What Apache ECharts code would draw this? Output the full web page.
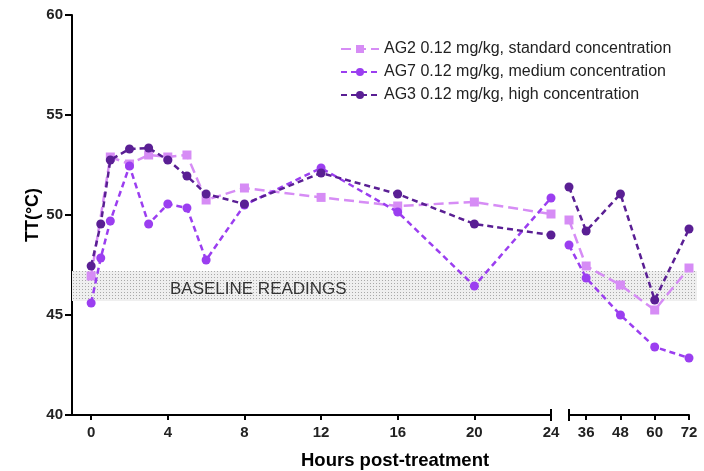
<!DOCTYPE html>
<html><head><meta charset="utf-8">
<script src="https://cdn.jsdelivr.net/npm/echarts@6/dist/echarts.min.js"></script>
<style>html,body{margin:0;padding:0;background:#fff}#c{width:704px;height:471px}</style>
</head><body><div id="c"></div>
<script>
// ---- data ----
const seriesNames = [
  'AG2 0.12 mg/kg, standard concentration',
  'AG7 0.12 mg/kg, medium concentration',
  'AG3 0.12 mg/kg, high concentration'
];
const hoursEarly = [0, 0.5, 1, 2, 3, 4, 5, 6, 8, 12, 16, 20, 24];
const hoursLate = [30, 36, 48, 60, 72];
const ag2Early = [46.95, null, 52.9, 52.55, 53.0, 52.9, 53.0, 50.75, 51.35, 50.88, 50.45, 50.65, 50.05];
const ag2Late = [49.75, 47.45, 46.5, 45.25, 47.35];
const ag7Early = [45.6, 47.85, 49.7, 52.45, 49.55, 50.55, 50.35, 47.75, 50.5, 52.35, 50.15, 46.45, 50.85];
const ag7Late = [48.5, 46.85, 45.0, 43.4, 42.85];
const ag3Early = [47.45, 49.55, 52.75, 53.3, 53.35, 52.75, 51.95, 51.05, 50.55, 52.1, 51.05, 49.55, 49.0];
const ag3Late = [51.4, 49.2, 51.05, 45.75, 49.3];
const tickEarly = [0, 4, 8, 12, 16, 20, 24];
const tickLate = [36, 48, 60, 72];
const baselineRange = [45.7, 47.2];
const baselineLabel = 'BASELINE READINGS';

// ---- styles ----
const colors = ['#d68cf5', '#9b3ef0', '#5a1f94'];
const symbols = ['rect', 'circle', 'circle'];
const dashes = [[10, 5], [6, 4], [6, 4]];
const FONT = '"Liberation Sans", Arial, sans-serif';

const pat = document.createElement('canvas');
pat.width = 3; pat.height = 3;
const pc = pat.getContext('2d');
pc.fillStyle = '#efefef'; pc.fillRect(0, 0, 3, 3);
pc.fillStyle = '#a9a9a9'; pc.fillRect(1, 1, 1, 1);

const pairs = (xs, ys) => xs.map((x, i) => [x, ys[i]]);
const early = [ag2Early, ag7Early, ag3Early];
const late = [ag2Late, ag7Late, ag3Late];

const series = [{
  type: 'line', xAxisIndex: 2, yAxisIndex: 2, silent: true, z: 0,
  data: [[0, 50], [1, 50]], symbol: 'none', lineStyle: { opacity: 0 },
  markArea: {
    silent: true,
    itemStyle: { color: { image: pat, repeat: 'repeat' } },
    label: { show: true, position: 'insideLeft', offset: [93, 3], color: '#333', fontSize: 17, fontFamily: FONT },
    data: [[{ yAxis: baselineRange[0], name: baselineLabel }, { yAxis: baselineRange[1] }]]
  }
}];
for (let k = 0; k < 3; k++) {
  [[early[k], hoursEarly, 0], [late[k], hoursLate, 1]].forEach(([ys, xs, ai]) => {
    series.push({
      name: seriesNames[k], type: 'line', xAxisIndex: ai, yAxisIndex: ai,
      data: pairs(xs, ys), connectNulls: true,
      symbol: symbols[k], symbolSize: 9,
      itemStyle: { color: colors[k] },
      lineStyle: { color: colors[k], width: 2.5, type: dashes[k] },
      z: 2 + k
    });
  });
}

const axisLabelStyle = { color: '#222', fontSize: 15, fontWeight: 'bold', fontFamily: FONT };
const axisLineStyle = { show: true, onZero: false, lineStyle: { color: '#000', width: 2 } };

const chart = echarts.init(document.getElementById('c'), null, { renderer: 'canvas' });
chart.setOption({
  animation: false,
  textStyle: { fontFamily: FONT },
  grid: [
    { left: 72, right: 153, top: 15, bottom: 56 },
    { left: 569, right: 15, top: 15, bottom: 56 },
    { left: 72, right: 7, top: 15, bottom: 56 }
  ],
  xAxis: [
    { type: 'value', gridIndex: 0, min: -1, max: 24, splitLine: { show: false },
      axisLine: axisLineStyle,
      axisTick: { show: true, length: 5, lineStyle: { width: 2, color: '#000' }, customValues: tickEarly },
      axisLabel: Object.assign({ margin: 10, customValues: tickEarly }, axisLabelStyle) },
    { type: 'value', gridIndex: 1, min: 30, max: 72, splitLine: { show: false },
      axisLine: axisLineStyle,
      axisTick: { show: true, length: 5, lineStyle: { width: 2, color: '#000' }, customValues: tickLate },
      axisLabel: Object.assign({ margin: 10, customValues: tickLate }, axisLabelStyle) },
    { type: 'value', gridIndex: 2, min: 0, max: 1, show: false }
  ],
  yAxis: [
    { type: 'value', gridIndex: 0, min: 40, max: 60, interval: 5, splitLine: { show: false },
      axisLine: axisLineStyle,
      axisTick: { show: true, length: 7, lineStyle: { width: 2, color: '#000' } },
      axisLabel: Object.assign({ margin: 9 }, axisLabelStyle),
      name: 'TT(°C)', nameLocation: 'middle', nameGap: 30, nameMoveOverlap: false,
      nameTextStyle: { fontSize: 18, fontWeight: 'bold', color: '#000', fontFamily: FONT } },
    { type: 'value', gridIndex: 1, min: 40, max: 60, show: false },
    { type: 'value', gridIndex: 2, min: 40, max: 60, show: false }
  ],
  title: {
    text: 'Hours post-treatment', left: 296, top: 446,
    textStyle: { fontSize: 18.5, fontWeight: 'bold', color: '#000', fontFamily: FONT }
  },
  legend: {
    data: seriesNames, orient: 'vertical', left: 335, top: 36,
    itemGap: 7, itemWidth: 38, itemHeight: 10,
    textStyle: { fontSize: 16, color: '#222', fontFamily: FONT }
  },
  series: series
});

// axis break markers
const pA = chart.convertToPixel({ gridIndex: 0 }, [24, 40]);
const pB = chart.convertToPixel({ gridIndex: 1 }, [30, 40]);
chart.setOption({
  graphic: [pA, pB].map(p => ({
    type: 'line', shape: { x1: p[0], y1: p[1] - 6, x2: p[0], y2: p[1] + 6 },
    style: { stroke: '#000', lineWidth: 2 }, z: 10
  }))
});
</script>
</body></html>
